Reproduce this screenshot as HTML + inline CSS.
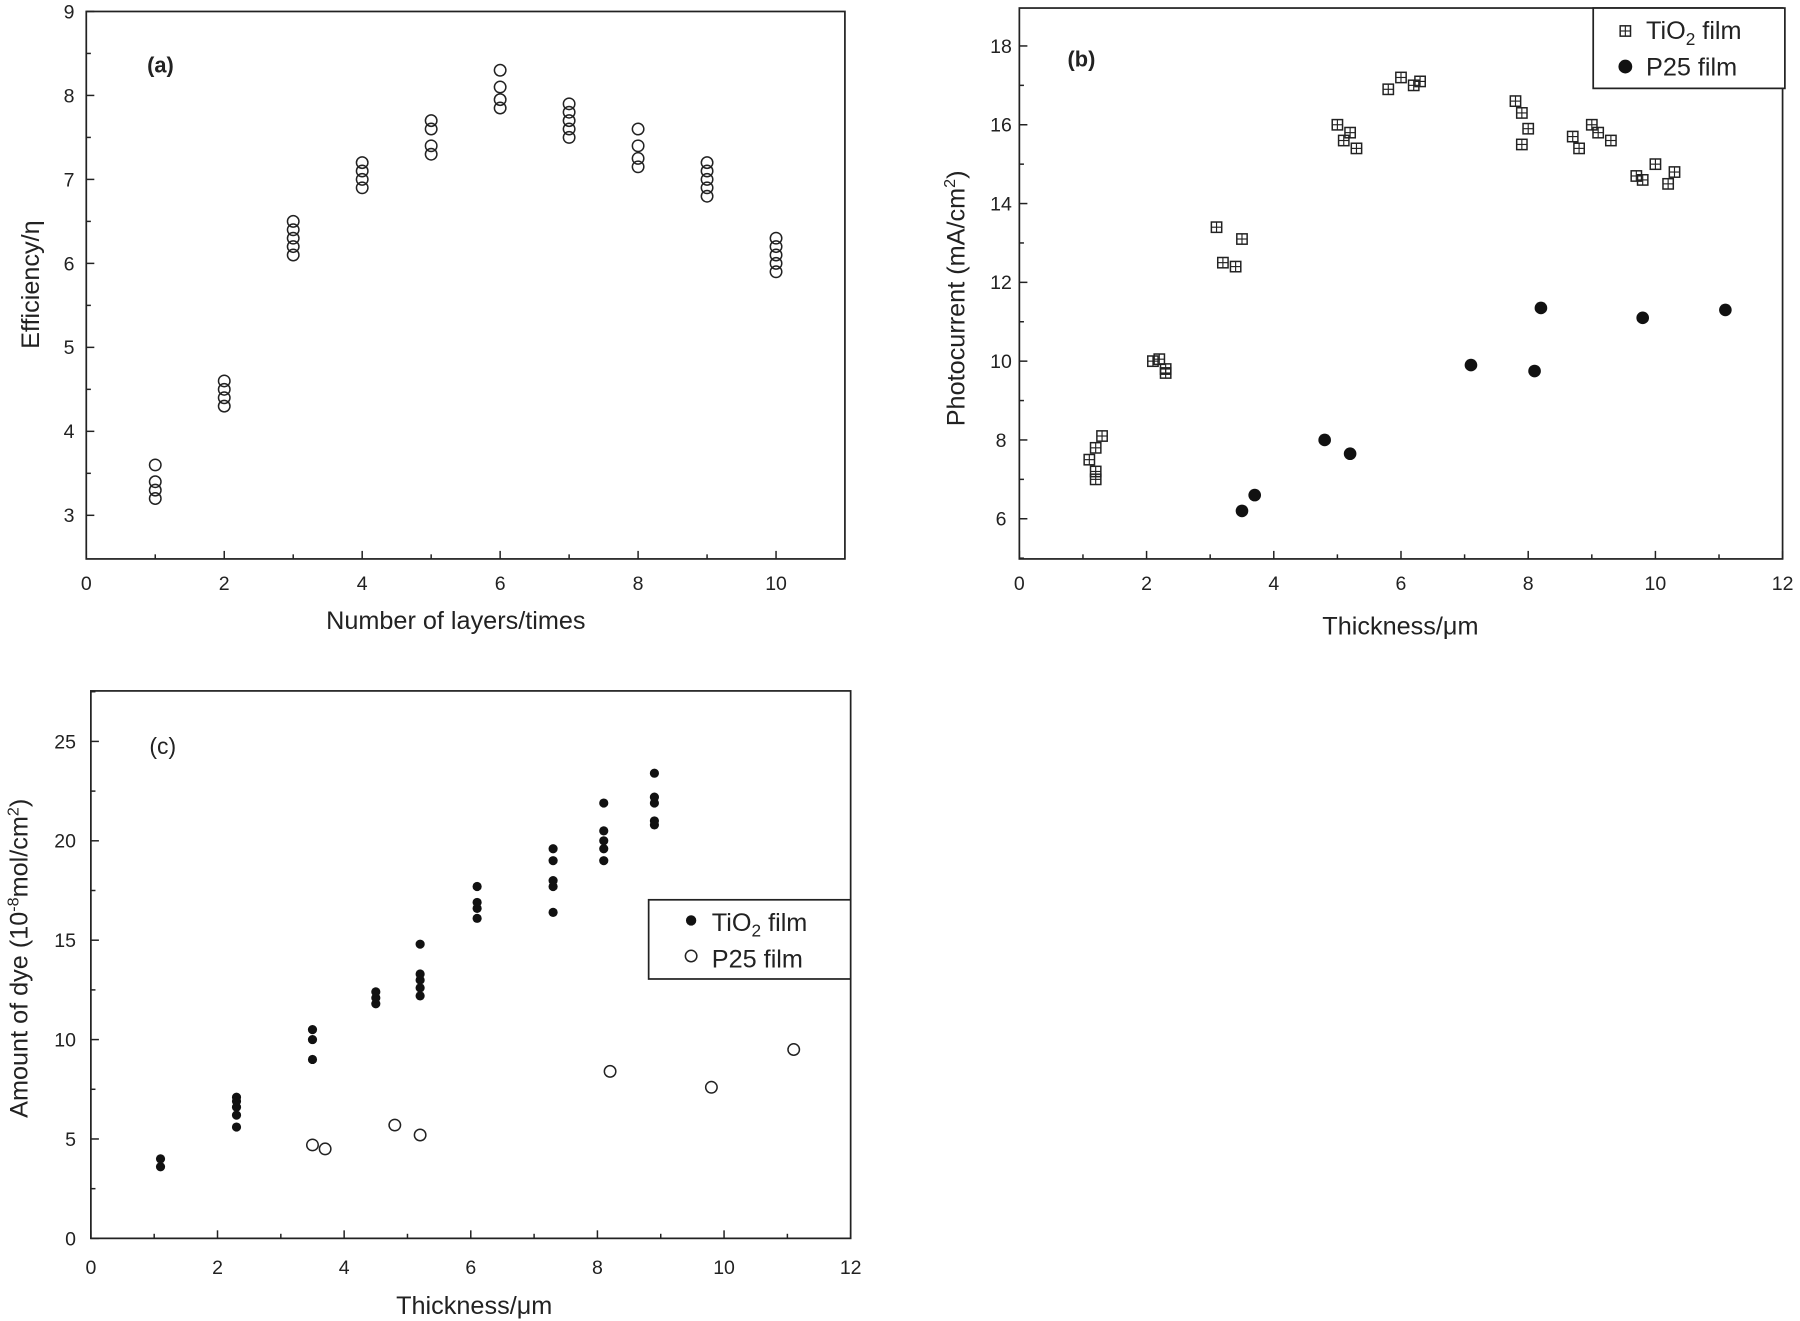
<!DOCTYPE html>
<html><head><meta charset="utf-8"><style>
html,body{margin:0;padding:0;background:#fff;}
svg{display:block;}
text{font-family:"Liberation Sans",sans-serif;fill:#222;}
</style></head><body>
<svg id="s" width="1800" height="1321" viewBox="0 0 1568 1151" xmlns="http://www.w3.org/2000/svg">
<rect width="1568" height="1151" fill="#fff"/>
<!-- panel a -->
<rect x="75" y="10" width="661" height="477" fill="none" stroke="#222" stroke-width="1.5"/>
<text x="128" y="63" font-size="19" font-weight="bold">(a)</text>
<text x="397" y="548" font-size="22" text-anchor="middle">Number of layers/times</text>
<text transform="translate(34,248) rotate(-90)" font-size="22" text-anchor="middle">Efficiency/η</text>
<!-- panel b -->
<rect x="888" y="7" width="665" height="480" fill="none" stroke="#222" stroke-width="1.5"/>
<text x="930" y="58" font-size="19" font-weight="bold">(b)</text>
<text x="1220" y="553" font-size="22" text-anchor="middle">Thickness/μm</text>
<text transform="translate(840,260) rotate(-90)" font-size="22" text-anchor="middle">Photocurrent (mA/cm<tspan dy="-8" font-size="14">2</tspan><tspan dy="8">)</tspan></text>
<rect x="1388" y="7" width="167" height="70" fill="#fff" stroke="#222" stroke-width="1.5"/>
<text x="1434" y="34" font-size="22">TiO<tspan dy="5" font-size="15">2</tspan><tspan dy="-5"> film</tspan></text>
<text x="1434" y="66" font-size="22">P25 film</text>
<!-- panel c -->
<rect x="79" y="602" width="662" height="477" fill="none" stroke="#222" stroke-width="1.5"/>
<text x="130" y="657" font-size="20">(c)</text>
<text x="413" y="1145" font-size="22" text-anchor="middle">Thickness/μm</text>
<text transform="translate(24,835) rotate(-90)" font-size="22" text-anchor="middle">Amount of dye (10<tspan dy="-8" font-size="14">-8</tspan><tspan dy="8">mol/cm</tspan><tspan dy="-8" font-size="14">2</tspan><tspan dy="8">)</tspan></text>
<rect x="565" y="784" width="176" height="69" fill="#fff" stroke="#222" stroke-width="1.5"/>
<text x="620" y="811" font-size="22">TiO<tspan dy="5" font-size="15">2</tspan><tspan dy="-5"> film</tspan></text>
<text x="620" y="843" font-size="22">P25 film</text>
<g id="g"></g>
</svg>
<script>
var g=document.getElementById('g'),h='';
function L(x1,y1,x2,y2){h+='<line x1="'+x1+'" y1="'+y1+'" x2="'+x2+'" y2="'+y2+'" stroke="#222" stroke-width="1.3"/>';}
function T(x,y,t,a){h+='<text x="'+x+'" y="'+y+'" font-size="17" text-anchor="'+(a||'middle')+'">'+t+'</text>';}
function oc(x,y,r){h+='<circle cx="'+x+'" cy="'+y+'" r="'+r+'" fill="none" stroke="#222" stroke-width="1.3"/>';}
function fc(x,y,r){h+='<circle cx="'+x+'" cy="'+y+'" r="'+r+'" fill="#111"/>';}
function sq(x,y){h+='<rect x="'+(x-4.5)+'" y="'+(y-4.5)+'" width="9" height="9" fill="none" stroke="#222" stroke-width="1.3"/><line x1="'+x+'" y1="'+(y-4.5)+'" x2="'+x+'" y2="'+(y+4.5)+'" stroke="#222"/><line x1="'+(x-4.5)+'" y1="'+y+'" x2="'+(x+4.5)+'" y2="'+y+'" stroke="#222"/>';}
// panel a
var ax=function(v){return 75+v*60.1},ay=function(v){return 449-(v-3)*73.17};
for(var i=0;i<=10;i++){L(ax(i),487,ax(i),i%2?483:480);if(i%2==0)T(ax(i),514,i);}
for(var v=3;v<=9;v+=0.5){L(75,ay(v),v%1?79:82,ay(v));if(v%1==0)T(60,ay(v)+6,v);}
var A={1:[3.2,3.3,3.4,3.6],2:[4.3,4.4,4.5,4.6],3:[6.1,6.2,6.3,6.4,6.5],4:[6.9,7.0,7.1,7.2],5:[7.3,7.4,7.6,7.7],6:[7.85,7.95,8.1,8.3],7:[7.5,7.6,7.7,7.8,7.9],8:[7.15,7.25,7.4,7.6],9:[6.8,6.9,7.0,7.1,7.2],10:[5.9,6.0,6.1,6.2,6.3]};
for(var k in A)A[k].forEach(function(v){oc(ax(+k),ay(v),5);});
// panel b
var bx=function(v){return 888+v*55.42},by=function(v){return 452-(v-6)*34.33};
for(var i=0;i<=12;i++){L(bx(i),487,bx(i),i%2?483:480);if(i%2==0)T(bx(i),514,i);}
for(var v=5;v<=19;v++){if(by(v)<7)continue;L(888,by(v),v%2?892:895,by(v));if(v%2==0)T(872,by(v)+6,v);}
[[1.1,7.5],[1.2,7.8],[1.3,8.1],[1.2,7.2],[1.2,7.0],[2.1,10],[2.2,10.05],[2.3,9.8],[2.3,9.7],[3.1,13.4],[3.2,12.5],[3.4,12.4],[3.5,13.1],[5.0,16],[5.1,15.6],[5.2,15.8],[5.3,15.4],[5.8,16.9],[6.0,17.2],[6.2,17.0],[6.3,17.1],[7.8,16.6],[7.9,16.3],[8.0,15.9],[7.9,15.5],[8.7,15.7],[8.8,15.4],[9.0,16],[9.1,15.8],[9.3,15.6],[9.7,14.7],[9.8,14.6],[10,15],[10.2,14.5],[10.3,14.8]].forEach(function(p){sq(bx(p[0]),by(p[1]));});
[[3.5,6.2],[3.7,6.6],[4.8,8],[5.2,7.65],[7.1,9.9],[8.1,9.75],[8.2,11.35],[9.8,11.1],[11.1,11.3]].forEach(function(p){fc(bx(p[0]),by(p[1]),5.5);});
sq(1416,27);fc(1416,58,6);
// panel c
var cx=function(v){return 79+v*55.17},cy=function(v){return 1079-v*17.32};
for(var i=0;i<=12;i++){L(cx(i),1079,cx(i),i%2?1075:1072);if(i%2==0)T(cx(i),1110,i);}
for(var v=0;v<=27.5;v+=2.5){L(79,cy(v),v%5?83:86,cy(v));if(v%5==0)T(66,cy(v)+6,v,'end');}
var C={1.1:[3.6,4.0],2.3:[5.6,6.2,6.6,6.9,7.1],3.5:[9.0,10.0,10.5],4.5:[11.8,12.1,12.4],5.2:[12.2,12.6,13.0,13.3,14.8],6.1:[16.1,16.6,16.9,17.7],7.3:[16.4,17.7,18.0,19.0,19.6],8.1:[19.0,19.6,20.0,20.5,21.9],8.9:[20.8,21.0,21.9,22.2,23.4]};
for(var k in C)C[k].forEach(function(v){fc(cx(+k),cy(v),4);});
[[3.5,4.7],[3.7,4.5],[4.8,5.7],[5.2,5.2],[8.2,8.4],[9.8,7.6],[11.1,9.5]].forEach(function(p){oc(cx(p[0]),cy(p[1]),5);});
fc(602,802,4.5);oc(602,833,5);
g.innerHTML=h;
</script>
</body></html>
